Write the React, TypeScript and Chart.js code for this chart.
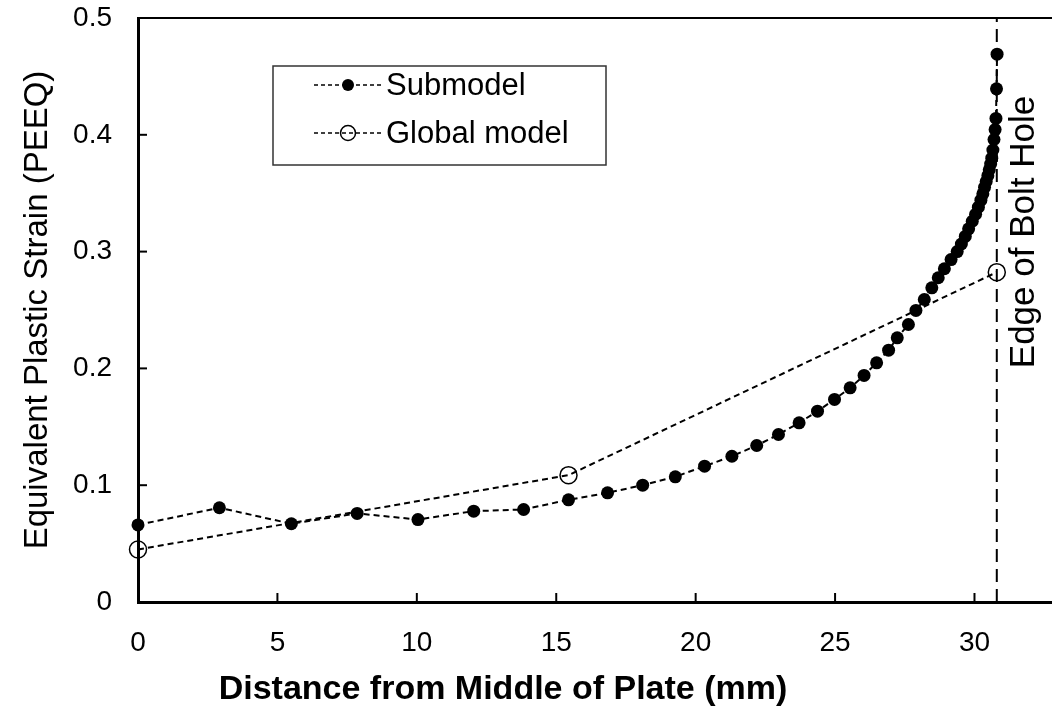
import React, { useEffect, useRef } from "react";
import { Chart, registerables } from "chart.js";

Chart.register(...registerables);

const subX = [0, 2.92, 5.5, 7.86, 10.04, 12.04, 13.83, 15.44, 16.84, 18.1, 19.27, 20.32, 21.3, 22.19, 22.97, 23.71, 24.37, 24.98, 25.54, 26.04, 26.49, 26.92, 27.23, 27.63, 27.9, 28.2, 28.47, 28.7, 28.92, 29.16, 29.38, 29.53, 29.67, 29.79, 29.92, 30.04, 30.14, 30.23, 30.3, 30.36, 30.42, 30.48, 30.53, 30.58, 30.62, 30.66, 30.7, 30.74, 30.77, 30.79, 30.81];
const subY = [0.066, 0.0807, 0.067, 0.0758, 0.0706, 0.0778, 0.0792, 0.0875, 0.0935, 0.1, 0.1072, 0.1163, 0.1248, 0.134, 0.1434, 0.1534, 0.1634, 0.1734, 0.1834, 0.194, 0.2048, 0.2156, 0.2262, 0.2376, 0.2496, 0.259, 0.269, 0.2776, 0.2853, 0.2932, 0.3, 0.3065, 0.313, 0.3195, 0.326, 0.332, 0.338, 0.344, 0.3495, 0.355, 0.36, 0.365, 0.37, 0.375, 0.38, 0.387, 0.396, 0.4045, 0.414, 0.4394, 0.469];
const globalX = [0, 15.44, 30.8];
const globalY = [0.045, 0.1086, 0.2824];
const edgeX = 30.8;
const edgeY = [0, 0.5];
const xTicks = [0, 5, 10, 15, 20, 25, 30];
const yTicks = [0, 0.1, 0.2, 0.3, 0.4, 0.5];
const seriesNames = ["Submodel", "Global model"];
const edgeLabel = "Edge of Bolt Hole";
const xTitle = "Distance from Middle of Plate (mm)";
const yTitle = "Equivalent Plastic Strain (PEEQ)";

const FONT = "'Liberation Sans', Arial, sans-serif";

const customPlugin = {
  id: "customDecor",
  afterDraw(chart: any) {
    const { ctx, chartArea, scales } = chart;
    const xs = scales.x;
    const ys = scales.y;
    ctx.save();
    ctx.strokeStyle = "#000";
    // top border
    ctx.lineWidth = 2;
    ctx.beginPath();
    ctx.moveTo(chartArea.left, chartArea.top);
    ctx.lineTo(chartArea.right, chartArea.top);
    ctx.stroke();
    // inward ticks
    ctx.lineWidth = 2;
    xs.ticks.forEach((t: any) => {
      const px = xs.getPixelForValue(t.value);
      if (px <= chartArea.left + 1) return;
      ctx.beginPath();
      ctx.moveTo(px, chartArea.bottom);
      ctx.lineTo(px, chartArea.bottom - 9);
      ctx.stroke();
    });
    ys.ticks.forEach((t: any) => {
      const py = ys.getPixelForValue(t.value);
      if (py >= chartArea.bottom - 1) return;
      ctx.beginPath();
      ctx.moveTo(chartArea.left, py);
      ctx.lineTo(chartArea.left + 9, py);
      ctx.stroke();
    });
    // x title
    ctx.fillStyle = "#000";
    ctx.font = `bold 34px ${FONT}`;
    ctx.textAlign = "center";
    ctx.textBaseline = "middle";
    ctx.fillText(xTitle, 503, 690);
    // edge label
    const ex = xs.getPixelForValue(edgeX);
    ctx.font = `35px ${FONT}`;
    ctx.translate(ex + 28, 232);
    ctx.rotate(-Math.PI / 2);
    ctx.textAlign = "center";
    ctx.textBaseline = "middle";
    ctx.fillText(edgeLabel, 0, 0);
    ctx.restore();

    // legend
    ctx.save();
    const bx = 273, by = 66, bw = 333, bh = 99;
    ctx.fillStyle = "#fff";
    ctx.fillRect(bx, by, bw, bh);
    ctx.strokeStyle = "#333";
    ctx.lineWidth = 1.5;
    ctx.strokeRect(bx, by, bw, bh);
    const rows = [85, 133];
    chart.data.datasets.slice(0, 2).forEach((ds: any, i: number) => {
      const yy = rows[i];
      ctx.strokeStyle = "#000";
      ctx.lineWidth = 1.5;
      ctx.setLineDash([4, 3]);
      ctx.beginPath();
      ctx.moveTo(314, yy);
      ctx.lineTo(382, yy);
      ctx.stroke();
      ctx.setLineDash([]);
      ctx.beginPath();
      ctx.arc(348, yy, i === 0 ? 6 : 7.5, 0, Math.PI * 2);
      if (i === 0) {
        ctx.fillStyle = "#000";
        ctx.fill();
      } else {
        ctx.lineWidth = 1.5;
        ctx.stroke();
      }
      ctx.fillStyle = "#000";
      ctx.font = `31px ${FONT}`;
      ctx.textAlign = "left";
      ctx.textBaseline = "middle";
      ctx.fillText(ds.label, 386, yy + 1);
    });
    ctx.restore();
  },
};

export default function App() {
  const ref = useRef<HTMLCanvasElement>(null);
  useEffect(() => {
    if (!ref.current) return;
    const chart = new Chart(ref.current, {
      type: "scatter",
      data: {
        datasets: [
          {
            label: seriesNames[0],
            data: subX.map((x, i) => ({ x, y: subY[i] })),
            showLine: true,
            borderColor: "#000",
            borderWidth: 2,
            borderDash: [6, 4],
            pointRadius: 6.5,
            pointBackgroundColor: "#000",
            pointBorderColor: "#000",
            pointBorderWidth: 0,
            clip: false,
          },
          {
            label: seriesNames[1],
            data: globalX.map((x, i) => ({ x, y: globalY[i] })),
            showLine: true,
            borderColor: "#000",
            borderWidth: 2,
            borderDash: [6, 4],
            pointRadius: 8.5,
            pointBackgroundColor: "rgba(0,0,0,0)",
            pointBorderColor: "#000",
            pointBorderWidth: 1.5,
            clip: false,
          },
          {
            label: "edge",
            data: edgeY.map((y) => ({ x: edgeX, y })),
            showLine: true,
            borderColor: "#000",
            borderWidth: 2,
            borderDash: [13, 7],
            pointRadius: 0,
          },
        ],
      },
      options: {
        responsive: false,
        animation: false,
        layout: { autoPadding: false, padding: { top: 18, right: 0, left: 0, bottom: 0 } },
        plugins: { legend: { display: false }, tooltip: { enabled: false } },
        scales: {
          x: {
            type: "linear",
            min: 0,
            max: 32.78,
            afterBuildTicks: (s: any) => {
              s.ticks = xTicks.map((v) => ({ value: v }));
            },
            afterFit: (s: any) => {
              s.height = 104;
              s.paddingLeft = 0;
              s.paddingRight = 0;
            },
            ticks: {
              padding: 24,
              color: "#000",
              font: { family: FONT, size: 28 },
              maxRotation: 0,
              autoSkip: false,
            },
            grid: { drawOnChartArea: false, drawTicks: false },
            border: { display: true, color: "#000", width: 3 },
            title: { display: false, text: xTitle },
          },
          y: {
            type: "linear",
            min: 0,
            max: 0.5,
            afterBuildTicks: (s: any) => {
              s.ticks = yTicks.map((v) => ({ value: v }));
            },
            afterFit: (s: any) => {
              s.width = 138;
              s.paddingTop = 0;
              s.paddingBottom = 0;
            },
            ticks: {
              padding: 26,
              color: "#000",
              font: { family: FONT, size: 28 },
              callback: (v: any) => String(Math.round(Number(v) * 10) / 10),
            },
            grid: { drawOnChartArea: false, drawTicks: false },
            border: { display: true, color: "#000", width: 3 },
            title: {
              display: true,
              text: yTitle,
              color: "#000",
              font: { family: FONT, size: 33, lineHeight: 1.2 },
              padding: { top: 18, bottom: 0 },
            },
          },
        },
      },
      plugins: [customPlugin],
    });
    return () => chart.destroy();
  }, []);
  return (
    <div style={{ position: "fixed", left: 0, top: 0, width: 1052, height: 706, background: "#fff" }}>
      <canvas ref={ref} width={1052} height={706} />
    </div>
  );
}
